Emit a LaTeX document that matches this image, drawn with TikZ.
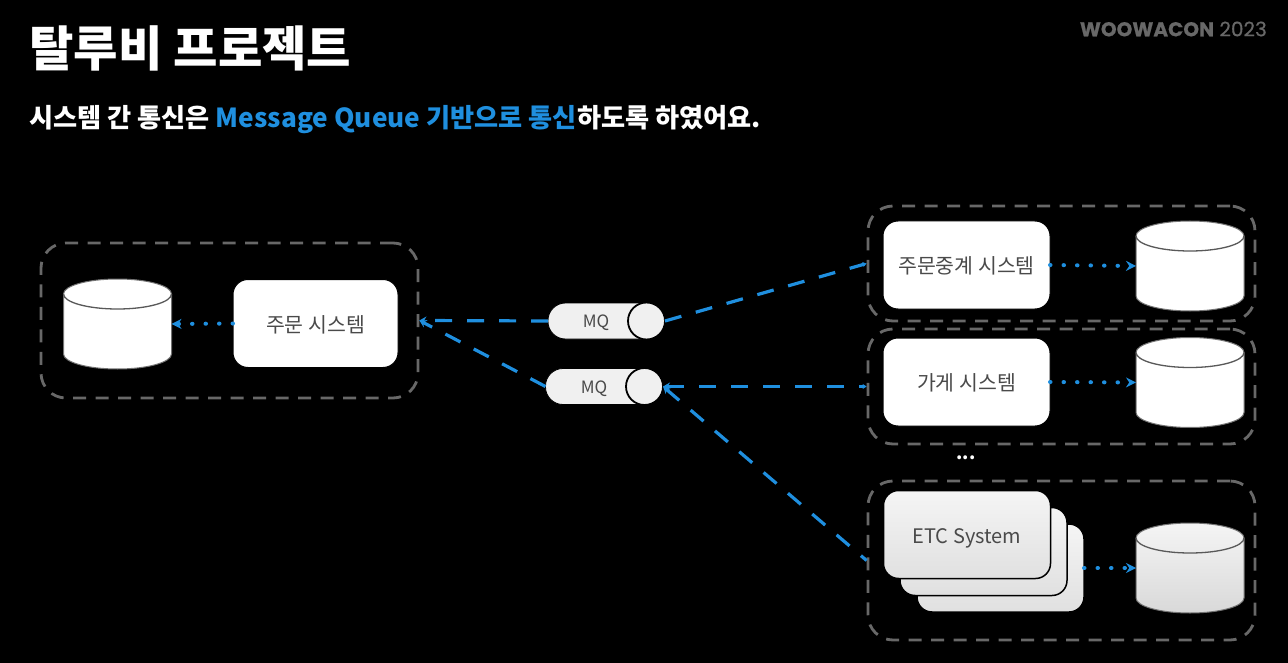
\documentclass[tikz,border=0pt]{standalone}
\usepackage{fontspec}
\setmainfont{Noto Sans CJK KR}
\newfontfamily\brandfont[FakeBold=0.6]{Poppins}
\usetikzlibrary{arrows.meta,shadings}
\definecolor{bluelink}{HTML}{1F8FDF}
\definecolor{dashgrey}{HTML}{686868}
\definecolor{boxtext}{HTML}{4A4A4A}
\newcommand{\dbshape}[4]{%
  \begin{scope}[shift={(#2,#3)}]
    \node[dbanchor] (#1) at (0,0) {};
    \path[#4,draw=black!55,line width=1pt] (-54,-30) -- (-54,30)
      .. controls (-54,38.3) and (-29.8,45) .. (0,45)
      .. controls (29.8,45) and (54,38.3) .. (54,30) -- (54,-30)
      .. controls (54,-38.3) and (29.8,-45) .. (0,-45)
      .. controls (-29.8,-45) and (-54,-38.3) .. (-54,-30) -- cycle;
    \draw[draw=black!65,line width=1.3pt] (-54,-30)
      .. controls (-54,-21.7) and (-29.8,-15) .. (0,-15)
      .. controls (29.8,-15) and (54,-21.7) .. (54,-30);
  \end{scope}}
\tikzset{
  x=1pt,y=-1pt,
  groupbox/.style={draw=dashgrey,line width=2.8pt,dash pattern=on 13pt off 9.5pt,rounded corners=25pt,minimum width=#1},
  sysbox/.style={fill=white,draw=black,line width=1pt,rounded corners=15pt,minimum width=167pt,minimum height=88pt,outer sep=0pt,text=boxtext,font=\fontsize{20.5}{24}\selectfont,text height=20pt,text depth=2.4pt},
  etcbox/.style={sysbox,top color=white!96!black,bottom color=white!88!black,draw=black,line width=1.5pt,font=\fontsize{20}{24}\selectfont},
  dbanchor/.style={minimum width=108pt,minimum height=90pt,inner sep=0pt,outer sep=0pt},
  pill/.style={fill=white!94!black,draw=black,line width=.8pt,rounded corners=17.5pt,minimum width=117pt,minimum height=36pt,inner sep=0pt,outer sep=0pt},
  pillcap/.style={circle,fill=white!94!black,draw=black,line width=1.8pt,minimum size=37pt,inner sep=0pt,outer sep=0pt},
  mqtext/.style={text=boxtext,font=\fontsize{17}{20}\selectfont,inner sep=0pt},
  mqlink/.style={draw=bluelink,line width=3.2pt,dash pattern=on 17pt off 15pt},
  dbarrow/.style={draw=bluelink,line width=4pt,line cap=round,dash pattern=on 0.5pt off 13pt,-{Stealth[length=10pt,width=10pt]}},
}
\begin{document}
\begin{tikzpicture}
\useasboundingbox[fill=black] (0,0) rectangle (1288,663);

\node[anchor=west,text=white,inner sep=0pt,font=\fontsize{48.3}{52}\bfseries\selectfont] (title) at (29,48.5) {탈루비 프로젝트};
\node[anchor=west,text=white,inner sep=0pt,font=\fontsize{26.2}{30}\bfseries\selectfont] (sub) at (29,120)
  {시스템 간 통신은 \textcolor{bluelink}{Message Queue 기반으로 통신}하도록 하였어요.};
\node[anchor=east,text=dashgrey,inner sep=0pt,font=\brandfont\fontsize{20}{24}\selectfont] (brand) at (1267,29)
  {\textbf{WOOWACON} 2023};

% dashed groups
\node[groupbox=377pt,minimum height=155pt] (gorder) at (229.5,320.5) {};
\node[groupbox=387pt,minimum height=115pt] (grelay) at (1061.5,263.5) {};
\node[groupbox=387pt,minimum height=115pt] (gstore) at (1061.5,386.5) {};
\node[groupbox=387pt,minimum height=159pt] (getc) at (1061.5,560.5) {};

% systems
\node[sysbox,minimum width=165pt] (order) at (315.5,323.5) {주문 시스템};
\node[sysbox] (relay) at (966.5,265) {주문중계 시스템};
\node[sysbox] (store) at (966.5,382) {가게 시스템};
\node[etcbox] (etc3) at (1000.5,568) {};
\node[etcbox] (etc2) at (983.5,551.5) {};
\node[etcbox] (etc1) at (967,534.5) {ETC System};
\node[text=white,inner sep=0pt,font=\fontsize{18}{20}\bfseries\selectfont] (more) at (966,458) {...};

% databases
\dbshape{dborder}{117.5}{324}{fill=white}
\dbshape{dbrelay}{1190}{266}{fill=white}
\dbshape{dbstore}{1190}{382.5}{fill=white}
\dbshape{dbetc}{1190}{568}{top color=white!96!black,bottom color=white!85!black}

% queues
\node[pill] (mqa) at (606.5,321) {};
\node[pillcap] (mqacap) at (646.5,321) {};
\node[mqtext] (mqalabel) at (596,322.5) {MQ};
\node[pill] (mqb) at (604,386.5) {};
\node[pillcap] (mqbcap) at (644.5,386.5) {};
\node[mqtext] (mqblabel) at (594,388.5) {MQ};

% message queue links
\draw[mqlink,-{Stealth[length=7pt,width=8pt]}] (mqa.west) -- (gorder.east);
\draw[mqlink,-{Stealth[length=7pt,width=8pt]}] (mqb.west) -- (gorder.east);
\draw[mqlink,-{Stealth[length=4pt,width=5pt]}] (mqacap.east) -- (grelay.west);
\draw[mqlink,{Stealth[length=7pt,width=8pt]}-{Stealth[length=4pt,width=5pt]}] (mqbcap.east) -- (gstore.west);
\draw[mqlink,{Stealth[length=7pt,width=8pt]}-] (mqbcap.east) -- (getc.west);

% database links
\draw[dbarrow] (order.west) -- (dborder.east);
\draw[dbarrow] (relay.east) -- (dbrelay.west);
\draw[dbarrow] (store.east) -- (dbstore.west);
\draw[dbarrow] (etc3.east) -- (dbetc.west);
\end{tikzpicture}
\end{document}
